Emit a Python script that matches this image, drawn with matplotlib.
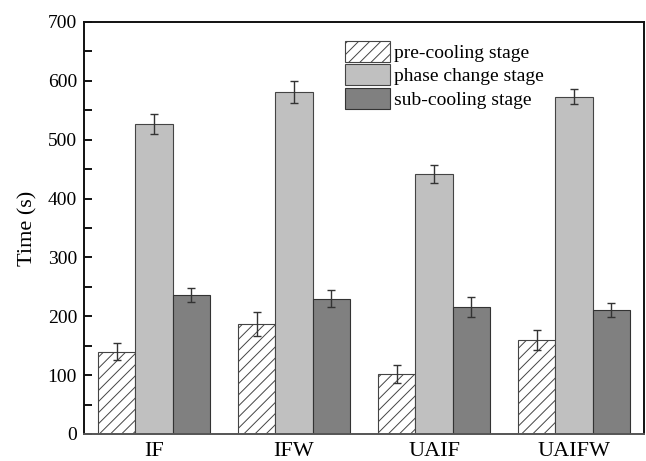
import numpy as np
import matplotlib.pyplot as plt
from matplotlib.ticker import MultipleLocator

plt.rcParams['font.family'] = ['Liberation Serif', 'DejaVu Serif']
plt.rcParams['hatch.color'] = '#555555'
plt.rcParams['hatch.linewidth'] = 0.7

groups = ['IF', 'IFW', 'UAIF', 'UAIFW']
series = ['pre-cooling stage', 'phase change stage', 'sub-cooling stage']
pre = [140, 187, 102, 160]
pre_err = [15, 20, 15, 17]
phase = [526, 581, 442, 573]
phase_err = [17, 18, 15, 13]
sub = [236, 230, 216, 211]
sub_err = [12, 14, 17, 12]

fig = plt.figure(figsize=(6.46, 4.61), dpi=100)
ax = fig.add_axes([0.130, 0.0586, 0.867, 0.8937])

x = np.arange(len(groups))
bw = 0.265
ekw = dict(ecolor='#333333', elinewidth=1.0, capthick=1.0)
ax.bar(x - bw, pre, bw, yerr=pre_err, capsize=3.2, color='white', edgecolor='#444444',
       linewidth=0.8, hatch='///', label=series[0], error_kw=ekw)
ax.bar(x, phase, bw, yerr=phase_err, capsize=3.2, color='#c0c0c0', edgecolor='#444444',
       linewidth=0.8, label=series[1], error_kw=ekw)
ax.bar(x + bw, sub, bw, yerr=sub_err, capsize=3.2, color='#808080', edgecolor='#333333',
       linewidth=0.8, label=series[2], error_kw=ekw)

ax.set_xlim(-0.5, 3.5)
ax.set_ylim(0, 700)
ax.set_xticks(x)
ax.set_xticklabels(groups, fontsize=16)
ax.tick_params(axis='x', length=0, pad=6)
ax.yaxis.set_major_locator(MultipleLocator(100))
ax.yaxis.set_minor_locator(MultipleLocator(50))
ax.tick_params(axis='y', which='both', direction='in', length=6, width=1.3, labelsize=14, pad=5)
ax.set_ylabel('Time (s)', fontsize=16, labelpad=7)
for s in ax.spines.values():
    s.set_linewidth(1.4)
    s.set_color('#111111')
ax.spines['bottom'].set_color('#555555')

ax.legend(loc='upper left', bbox_to_anchor=(0.466, 0.955), frameon=False, fontsize=14,
          handlelength=2.3, handleheight=1.3, labelspacing=0.12, handletextpad=0.2,
          borderpad=0, borderaxespad=0)

fig.savefig('out.png', dpi=100)
